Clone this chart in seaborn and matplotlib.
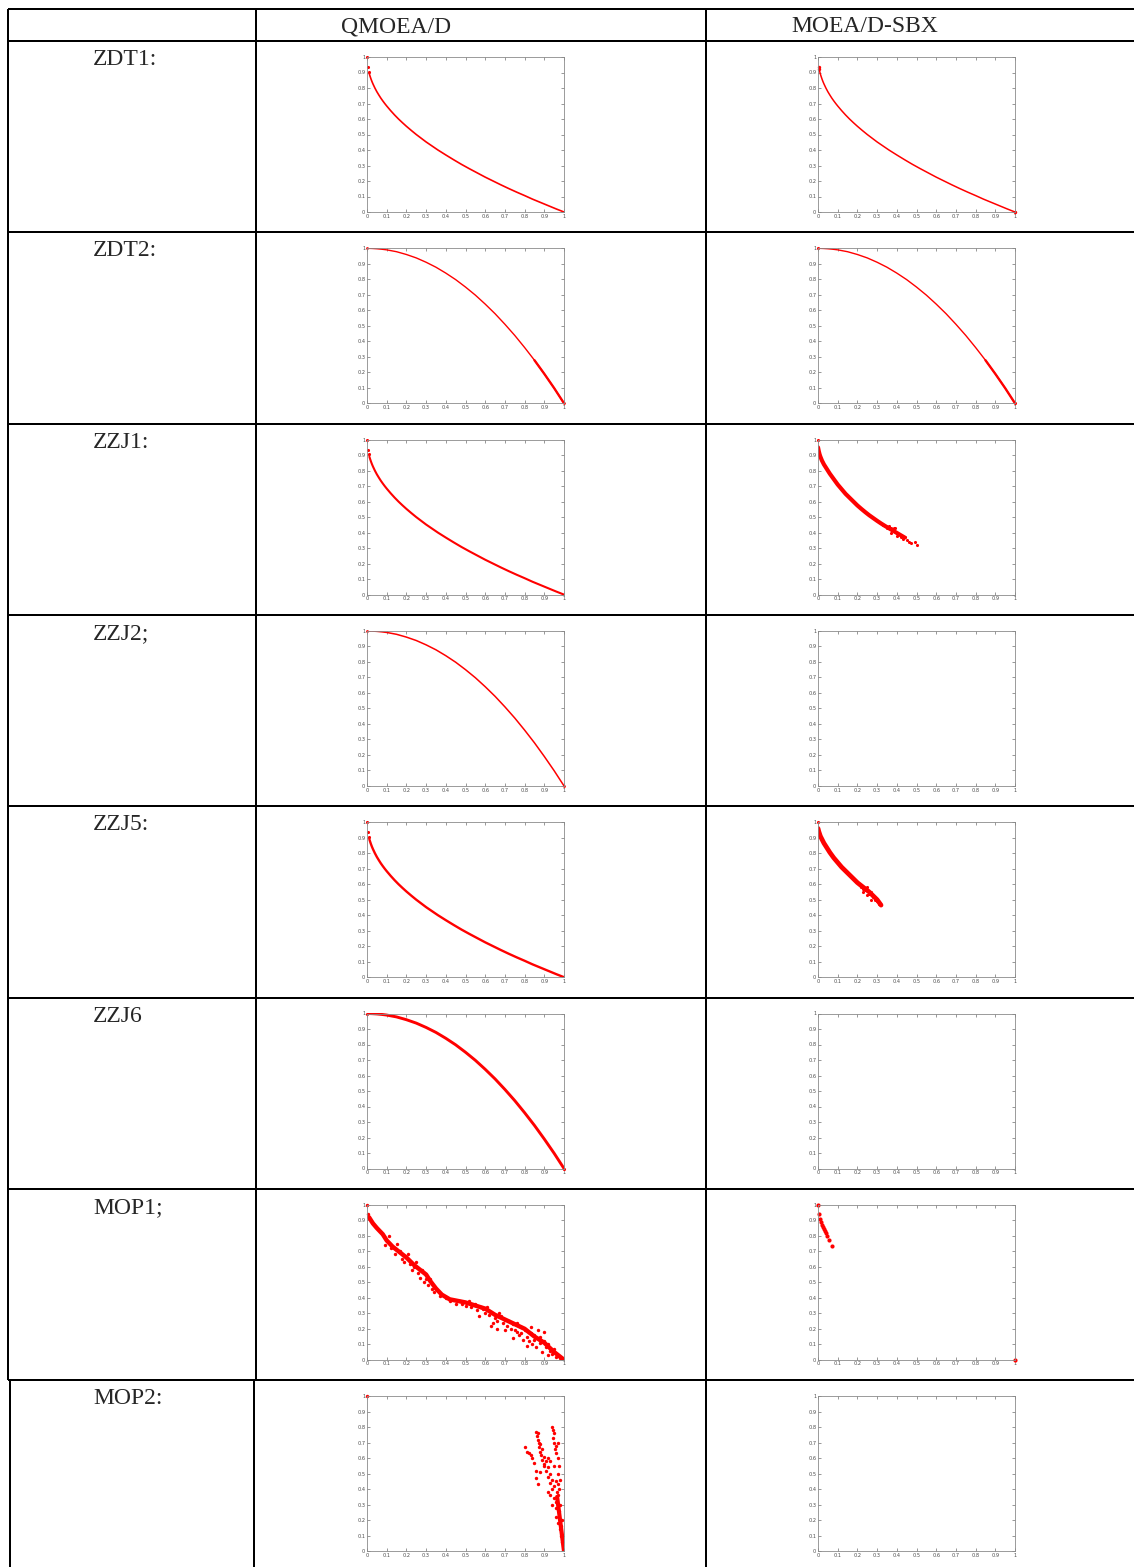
import numpy as np
import matplotlib
matplotlib.use("Agg")
import matplotlib.pyplot as plt
from matplotlib import font_manager
import seaborn as sns

# ---------------------------------------------------------------- data
row_labels = ["ZDT1:", "ZDT2:", "ZZJ1:", "ZZJ2;", "ZZJ5:", "ZZJ6", "MOP1;", "MOP2:"]
col_labels = ["QMOEA/D", "MOEA/D-SBX"]
tick_values = [0.0, 0.1, 0.2, 0.3, 0.4, 0.5, 0.6, 0.7, 0.8, 0.9, 1.0]
tick_labels = ["0", "0.1", "0.2", "0.3", "0.4", "0.5", "0.6", "0.7", "0.8", "0.9", "1"]

# convex fronts (ZDT1 / ZZJ1 / ZZJ5, QMOEA/D)
convex_x = [0.012, 0.016, 0.02, 0.025, 0.03, 0.04, 0.05, 0.06, 0.07, 0.08, 0.09, 0.10,
            0.12, 0.14, 0.16, 0.18, 0.20, 0.225, 0.25, 0.275, 0.30, 0.33, 0.36, 0.40,
            0.44, 0.48, 0.52, 0.56, 0.60, 0.64, 0.68, 0.72, 0.76, 0.80, 0.84, 0.88,
            0.92, 0.96, 1.00]
convex_y = [0.89, 0.874, 0.859, 0.842, 0.827, 0.80, 0.776, 0.755, 0.735, 0.717, 0.70, 0.684,
            0.654, 0.626, 0.60, 0.576, 0.553, 0.526, 0.50, 0.476, 0.452, 0.426, 0.40, 0.368,
            0.337, 0.307, 0.279, 0.252, 0.225, 0.20, 0.175, 0.151, 0.128, 0.106, 0.083, 0.062,
            0.041, 0.02, 0.0]
convex_top = [(0.0, 1.0), (0.004, 0.935), (0.008, 0.905)]

# ZDT1, MOEA/D-SBX
zdt1_sbx_x = [0.008, 0.012, 0.016, 0.02, 0.025, 0.03, 0.04, 0.05, 0.06, 0.07, 0.08, 0.09,
              0.10, 0.12, 0.14, 0.16, 0.18, 0.20, 0.225, 0.25, 0.275, 0.30, 0.33, 0.36,
              0.40, 0.44, 0.48, 0.52, 0.56, 0.60, 0.64, 0.68, 0.72, 0.76, 0.80, 0.84,
              0.88, 0.92, 0.96, 1.00]
zdt1_sbx_y = [0.91, 0.89, 0.874, 0.859, 0.842, 0.827, 0.80, 0.776, 0.755, 0.735, 0.717, 0.70,
              0.684, 0.654, 0.626, 0.60, 0.576, 0.553, 0.526, 0.50, 0.476, 0.452, 0.426, 0.40,
              0.368, 0.337, 0.307, 0.279, 0.252, 0.225, 0.20, 0.175, 0.151, 0.128, 0.106,
              0.083, 0.062, 0.041, 0.02, 0.0]
zdt1_sbx_pts = [(0.003, 0.935), (0.006, 0.92), (1.0, 0.0)]

# concave fronts (ZDT2 / ZZJ2 / ZZJ6)
concave_x = [0.0, 0.025, 0.05, 0.075, 0.10, 0.125, 0.15, 0.175, 0.20, 0.225, 0.25, 0.275,
             0.30, 0.325, 0.35, 0.375, 0.40, 0.425, 0.45, 0.475, 0.50, 0.525, 0.55, 0.575,
             0.60, 0.625, 0.65, 0.675, 0.70, 0.725, 0.75, 0.775, 0.80, 0.825, 0.85, 0.875,
             0.90, 0.925, 0.95, 0.975, 1.00]
concave_y = [1.0, 0.999, 0.997, 0.994, 0.99, 0.984, 0.978, 0.969, 0.96, 0.949, 0.938, 0.924,
             0.91, 0.894, 0.878, 0.859, 0.84, 0.819, 0.798, 0.774, 0.75, 0.724, 0.698, 0.669,
             0.64, 0.609, 0.578, 0.544, 0.51, 0.474, 0.438, 0.399, 0.36, 0.319, 0.278, 0.234,
             0.19, 0.144, 0.098, 0.049, 0.0]
concave_end_x = [0.85, 0.875, 0.90, 0.925, 0.95, 0.975, 1.00]
concave_end_y = [0.278, 0.234, 0.19, 0.144, 0.098, 0.049, 0.0]
concave_pts = [(0.0, 1.0), (1.0, 0.0)]

# ZZJ1, MOEA/D-SBX
zzj1_sbx_x = [0.0, 0.004, 0.008, 0.012, 0.02, 0.03, 0.04, 0.05, 0.06, 0.08, 0.10, 0.12,
              0.14, 0.16, 0.18, 0.20, 0.22, 0.24, 0.26, 0.28, 0.30, 0.32, 0.34, 0.36,
              0.38, 0.40, 0.42, 0.44]
zzj1_sbx_y = [0.95, 0.925, 0.905, 0.89, 0.865, 0.84, 0.82, 0.80, 0.78, 0.745, 0.71, 0.68,
              0.65, 0.625, 0.60, 0.575, 0.553, 0.532, 0.512, 0.494, 0.476, 0.459, 0.443, 0.428,
              0.413, 0.398, 0.383, 0.368]
zzj1_sbx_pts = [(0.0, 1.0), (0.33, 0.45), (0.35, 0.43), (0.36, 0.44), (0.37, 0.43),
                (0.38, 0.42), (0.385, 0.43), (0.39, 0.43), (0.37, 0.40), (0.40, 0.38),
                (0.42, 0.37), (0.43, 0.36), (0.44, 0.37), (0.45, 0.35), (0.46, 0.34),
                (0.47, 0.33), (0.49, 0.34), (0.50, 0.32)]

# ZZJ5, MOEA/D-SBX
zzj5_sbx_x = [0.0, 0.004, 0.008, 0.012, 0.02, 0.03, 0.04, 0.05, 0.06, 0.08, 0.10, 0.12,
              0.14, 0.16, 0.18, 0.20, 0.22, 0.24, 0.26, 0.28, 0.30, 0.32]
zzj5_sbx_y = [0.96, 0.94, 0.925, 0.91, 0.89, 0.865, 0.845, 0.825, 0.805, 0.77, 0.74, 0.71,
              0.685, 0.66, 0.635, 0.61, 0.59, 0.57, 0.55, 0.525, 0.50, 0.465]
zzj5_sbx_pts = [(0.0, 1.0), (0.22, 0.58), (0.23, 0.57), (0.24, 0.56), (0.25, 0.58),
                (0.26, 0.54), (0.27, 0.55), (0.28, 0.52), (0.29, 0.50), (0.30, 0.49),
                (0.27, 0.50), (0.25, 0.53), (0.23, 0.55), (0.31, 0.47)]

# MOP1, QMOEA/D
mop1_q_x = [0.01, 0.03, 0.05, 0.08, 0.10, 0.13, 0.16, 0.20, 0.24, 0.28, 0.30, 0.32, 0.35,
            0.38, 0.42, 0.46, 0.50, 0.55, 0.60, 0.65, 0.70, 0.75, 0.80, 0.85, 0.90, 0.95, 1.0]
mop1_q_y = [0.92, 0.88, 0.85, 0.81, 0.77, 0.73, 0.70, 0.66, 0.61, 0.57, 0.55, 0.51, 0.46,
            0.42, 0.39, 0.38, 0.37, 0.35, 0.33, 0.29, 0.26, 0.23, 0.20, 0.15, 0.11, 0.05, 0.0]
mop1_q_pts = [(0.0, 1.0), (0.005, 0.94), (0.12, 0.72), (0.14, 0.68), (0.17, 0.70),
              (0.19, 0.63), (0.22, 0.62), (0.24, 0.60), (0.26, 0.56), (0.28, 0.58),
              (0.27, 0.53), (0.30, 0.52), (0.31, 0.48), (0.33, 0.46), (0.42, 0.38),
              (0.45, 0.36), (0.47, 0.38), (0.50, 0.35), (0.53, 0.34), (0.55, 0.36),
              (0.56, 0.32), (0.59, 0.33), (0.60, 0.30), (0.62, 0.29), (0.63, 0.31),
              (0.65, 0.27), (0.66, 0.25), (0.67, 0.30), (0.68, 0.28), (0.69, 0.24),
              (0.70, 0.26), (0.71, 0.22), (0.72, 0.25), (0.73, 0.20), (0.74, 0.23),
              (0.75, 0.19), (0.76, 0.24), (0.77, 0.16), (0.78, 0.21), (0.79, 0.13),
              (0.80, 0.19), (0.81, 0.15), (0.82, 0.12), (0.83, 0.17), (0.84, 0.10),
              (0.85, 0.16), (0.86, 0.08), (0.87, 0.19), (0.88, 0.11), (0.89, 0.05),
              (0.90, 0.18), (0.91, 0.08), (0.92, 0.03), (0.93, 0.06), (0.94, 0.04),
              (0.96, 0.02), (0.98, 0.01), (0.63, 0.22), (0.57, 0.28), (0.66, 0.20),
              (0.70, 0.19), (0.74, 0.14), (0.78, 0.17), (0.85, 0.13), (0.92, 0.10),
              (0.81, 0.09), (0.88, 0.15), (0.64, 0.24), (0.76, 0.18), (0.83, 0.21),
              (0.90, 0.12), (0.95, 0.07), (0.09, 0.74), (0.11, 0.80), (0.15, 0.75),
              (0.18, 0.65), (0.21, 0.68), (0.23, 0.58), (0.25, 0.63), (0.29, 0.50),
              (0.32, 0.52), (0.34, 0.44), (0.37, 0.41), (0.40, 0.40), (0.48, 0.36),
              (0.52, 0.38), (0.58, 0.34), (0.61, 0.34)]

# MOP1, MOEA/D-SBX
mop1_sbx_pts = [(0.0, 1.0), (0.005, 0.94), (0.01, 0.91), (0.015, 0.89), (0.02, 0.87),
                (0.025, 0.86), (0.03, 0.845), (0.035, 0.83), (0.04, 0.815), (0.045, 0.80),
                (0.057, 0.77), (0.072, 0.735), (1.0, 0.0)]

# MOP2, QMOEA/D
mop2_q_x = [0.965, 0.97, 0.975, 0.98, 0.985, 0.99, 0.995, 1.0]
mop2_q_y = [0.35, 0.30, 0.25, 0.20, 0.15, 0.10, 0.05, 0.0]
mop2_q_pts = [(0.0, 1.0), (0.80, 0.67), (0.81, 0.64), (0.82, 0.63), (0.83, 0.62),
              (0.84, 0.60), (0.85, 0.57), (0.86, 0.52), (0.86, 0.77), (0.87, 0.76),
              (0.865, 0.74), (0.87, 0.72), (0.875, 0.70), (0.88, 0.69), (0.875, 0.67),
              (0.89, 0.66), (0.88, 0.64), (0.885, 0.62), (0.90, 0.61), (0.89, 0.59),
              (0.91, 0.58), (0.90, 0.56), (0.92, 0.54), (0.91, 0.52), (0.93, 0.50),
              (0.92, 0.48), (0.94, 0.46), (0.93, 0.44), (0.95, 0.42), (0.94, 0.40),
              (0.92, 0.38), (0.93, 0.36), (0.95, 0.34), (0.96, 0.32), (0.94, 0.30),
              (0.96, 0.28), (0.94, 0.80), (0.945, 0.78), (0.95, 0.76), (0.945, 0.73),
              (0.95, 0.70), (0.955, 0.66), (0.96, 0.68), (0.97, 0.70), (0.96, 0.63),
              (0.97, 0.60), (0.975, 0.55), (0.97, 0.50), (0.98, 0.46), (0.97, 0.43),
              (0.975, 0.40), (0.97, 0.36), (0.96, 0.22), (0.97, 0.18), (0.98, 0.14),
              (0.985, 0.10), (0.99, 0.06), (0.98, 0.30), (0.99, 0.20), (0.86, 0.47),
              (0.87, 0.43), (0.88, 0.51), (0.90, 0.55), (0.92, 0.60), (0.93, 0.58),
              (0.95, 0.55), (0.96, 0.45), (0.965, 0.38), (0.975, 0.26), (0.985, 0.16)]

# ---------------------------------------------------------------- style
sns.set_theme(style="white")
installed = {f.name for f in font_manager.fontManager.ttflist}
serif_choices = [n for n in ["Liberation Serif", "Times New Roman", "Nimbus Roman",
                             "TeX Gyre Termes", "FreeSerif"] if n in installed]
plt.rcParams["font.family"] = serif_choices + ["DejaVu Serif"]
LABEL_FONT = serif_choices[0] if serif_choices else "DejaVu Serif"

W, H = 1134, 1567
fig = plt.figure(figsize=(W / 100, H / 100), dpi=100)
fig.patch.set_facecolor("white")

RED = "#ff0000"
LINE_PT = 2 * 72 / 100  # 2 px table rules

row_h = 191.3
row_tops = [41 + i * row_h for i in range(len(row_labels))]

# table grid and text live on a full-figure canvas in pixel units
canvas = fig.add_axes([0, 0, 1, 1])
canvas.set_xlim(0, W)
canvas.set_ylim(H, 0)
canvas.axis("off")

canvas.hlines([9, 41] + row_tops[1:], 8, W, color="black", lw=LINE_PT)
last_top = row_tops[-1]
canvas.vlines([8, 256, 706], 9, last_top, color="black", lw=LINE_PT)
canvas.vlines([10, 254, 706], last_top, H, color="black", lw=LINE_PT)

text_kw = dict(fontsize=17, ha="left", va="baseline", family=LABEL_FONT)
canvas.text(341, 32, col_labels[0], **text_kw)
canvas.text(791, 32, col_labels[1], **text_kw)
for top, lab in zip(row_tops, row_labels):
    canvas.text(93, top + 24, lab, **text_kw)


def px_axes(left, top, right, bottom):
    return fig.add_axes([left / W, 1 - bottom / H, (right - left) / W, (bottom - top) / H])


def style_axes(ax):
    ax.set_xlim(0, 1)
    ax.set_ylim(0, 1)
    ax.set_xticks(tick_values)
    ax.set_yticks(tick_values)
    ax.set_xticklabels(tick_labels, family="DejaVu Sans")
    ax.set_yticklabels(tick_labels, family="DejaVu Sans")
    ax.tick_params(direction="in", length=2.2, width=0.4, top=True, right=True,
                   labelsize=3.6, colors="#4a4a4a", pad=1.2, bottom=True, left=True)
    for sp in ax.spines.values():
        sp.set_color("#8a8a8a")
        sp.set_linewidth(0.6)
    ax.set_xlabel("")
    ax.set_ylabel("")
    ax.set_facecolor("white")


def draw_front(ax, xs, ys, lw):
    sns.lineplot(x=xs, y=ys, sort=False, estimator=None, ax=ax, color=RED,
                 lw=lw, solid_capstyle="round", solid_joinstyle="round")


def draw_points(ax, pts, size=4):
    xs = [p[0] for p in pts]
    ys = [p[1] for p in pts]
    sns.scatterplot(x=xs, y=ys, ax=ax, color=RED, s=size, linewidth=0,
                    clip_on=False, marker="o")


panels = [
    # ZDT1
    (lambda ax: (draw_front(ax, convex_x, convex_y, 1.2), draw_points(ax, convex_top, 5)),
     lambda ax: (draw_front(ax, zdt1_sbx_x, zdt1_sbx_y, 1.1), draw_points(ax, zdt1_sbx_pts, 6))),
    # ZDT2
    (lambda ax: (draw_front(ax, concave_x, concave_y, 1.0), draw_front(ax, concave_end_x, concave_end_y, 1.7),
                 draw_points(ax, concave_pts, 4)),
     lambda ax: (draw_front(ax, concave_x, concave_y, 1.0), draw_front(ax, concave_end_x, concave_end_y, 1.7),
                 draw_points(ax, concave_pts, 5))),
    # ZZJ1
    (lambda ax: (draw_front(ax, convex_x, convex_y, 1.5), draw_points(ax, convex_top, 5)),
     lambda ax: (draw_front(ax, zzj1_sbx_x, zzj1_sbx_y, 3.0), draw_points(ax, zzj1_sbx_pts, 5))),
    # ZZJ2
    (lambda ax: (draw_front(ax, concave_x, concave_y, 1.1), draw_points(ax, concave_pts, 4)),
     lambda ax: None),
    # ZZJ5
    (lambda ax: (draw_front(ax, convex_x, convex_y, 1.7), draw_points(ax, convex_top, 5)),
     lambda ax: (draw_front(ax, zzj5_sbx_x, zzj5_sbx_y, 3.4), draw_points(ax, zzj5_sbx_pts, 5))),
    # ZZJ6
    (lambda ax: (draw_front(ax, concave_x, concave_y, 2.1), draw_points(ax, concave_pts, 5)),
     lambda ax: None),
    # MOP1
    (lambda ax: (draw_front(ax, mop1_q_x, mop1_q_y, 3.2), draw_points(ax, mop1_q_pts, 6)),
     lambda ax: draw_points(ax, mop1_sbx_pts, 9)),
    # MOP2
    (lambda ax: (draw_front(ax, mop2_q_x, mop2_q_y, 3.0), draw_points(ax, mop2_q_pts, 6)),
     lambda ax: None),
]

col_spans = [(367, 564), (818, 1015)]
for top, (draw_q, draw_s) in zip(row_tops, panels):
    for (l, r), drawer in zip(col_spans, (draw_q, draw_s)):
        ax = px_axes(l, top + 16, r, top + 171)
        drawer(ax)
        style_axes(ax)

fig.savefig("out.png", dpi=100, facecolor="white")
